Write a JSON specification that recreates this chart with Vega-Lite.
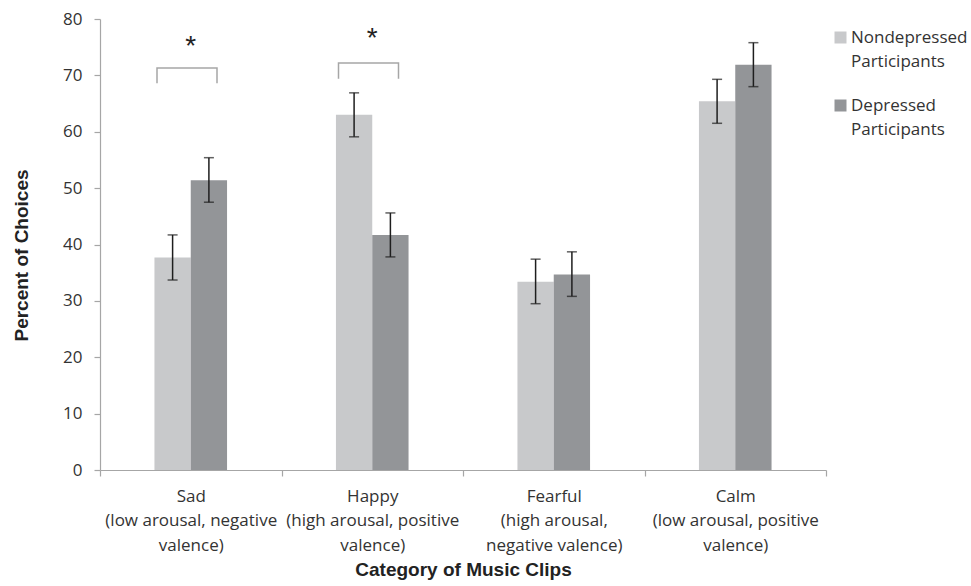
{
  "$schema": "https://vega.github.io/schema/vega-lite/v6.json",
  "width": 726,
  "height": 451,
  "autosize": "none",
  "padding": {"left": 100, "top": 19, "right": 145, "bottom": 116},
  "background": "white",
  "config": {"view": {"stroke": null}, "style": {"guide-label": {"lineHeight": 24}}},
  "datasets": {
    "bars": [
      {"category": "Sad", "group": "Nondepressed Participants", "value": 37.7, "lo": 33.7, "hi": 41.7},
      {"category": "Sad", "group": "Depressed Participants", "value": 51.4, "lo": 47.5, "hi": 55.4},
      {"category": "Happy", "group": "Nondepressed Participants", "value": 63.0, "lo": 59.1, "hi": 66.9},
      {"category": "Happy", "group": "Depressed Participants", "value": 41.7, "lo": 37.8, "hi": 45.6},
      {"category": "Fearful", "group": "Nondepressed Participants", "value": 33.4, "lo": 29.5, "hi": 37.4},
      {"category": "Fearful", "group": "Depressed Participants", "value": 34.7, "lo": 30.8, "hi": 38.7},
      {"category": "Calm", "group": "Nondepressed Participants", "value": 65.4, "lo": 61.5, "hi": 69.3},
      {"category": "Calm", "group": "Depressed Participants", "value": 71.9, "lo": 68.0, "hi": 75.8}
    ],
    "brackets": [
      {"category": "Sad", "side": "L", "y": 68.6, "ord": 1},
      {"category": "Sad", "side": "L", "y": 71.3, "ord": 2},
      {"category": "Sad", "side": "R", "y": 71.3, "ord": 3},
      {"category": "Sad", "side": "R", "y": 68.6, "ord": 4},
      {"category": "Happy", "side": "L", "y": 69.4, "ord": 1},
      {"category": "Happy", "side": "L", "y": 72.2, "ord": 2},
      {"category": "Happy", "side": "R", "y": 72.2, "ord": 3},
      {"category": "Happy", "side": "R", "y": 69.4, "ord": 4}
    ],
    "stars": [
      {"category": "Sad", "y": 76.1, "label": "*"},
      {"category": "Happy", "y": 77.5, "label": "*"}
    ]
  },
  "layer": [
    {
      "data": {"name": "bars"},
      "layer": [
        {
          "mark": {"type": "bar"},
          "encoding": {
            "x": {
              "field": "category", "type": "nominal", "title": "Category of Music Clips",
              "scale": {"domain": ["Sad", "Happy", "Fearful", "Calm"], "paddingInner": 0, "paddingOuter": 0},
              "axis": {
                "labelExpr": "{'Sad': ['Sad', '(low arousal, negative', 'valence)'], 'Happy': ['Happy', '(high arousal, positive', 'valence)'], 'Fearful': ['Fearful', '(high arousal,', 'negative valence)'], 'Calm': ['Calm', '(low arousal, positive', 'valence)']}[datum.label]",
                "labelAngle": 0,
                "labelFont": "Open Sans",
                "labelFontSize": 17,
                "labelColor": "#333333",
                "labelLineHeight": 24.5,
                "labelBaseline": "top",
                "labelPadding": 12,
                "labelOverlap": false,
                "labelBound": false,
                "labelLimit": 400,
                "tickSize": 6,
                "tickBand": "extent",
                "tickColor": "#a6a6a6",
                "tickWidth": 1.2,
                "domainColor": "#a6a6a6",
                "domainWidth": 1.2,
                "titleFont": "Liberation Sans",
                "titleFontWeight": "bold",
                "titleFontSize": 19,
                "titleColor": "#222222",
                "titlePadding": 7
              }
            },
            "xOffset": {
              "field": "group", "type": "nominal",
              "scale": {"domain": ["Nondepressed Participants", "Depressed Participants"], "paddingInner": 0, "paddingOuter": 0, "range": [54.45, 127.05]}
            },
            "y": {
              "field": "value", "type": "quantitative", "title": "Percent of Choices",
              "scale": {"domain": [0, 80], "nice": false},
              "axis": {
                "values": [0, 10, 20, 30, 40, 50, 60, 70, 80],
                "grid": false,
                "labelFont": "Open Sans",
                "labelFontSize": 17,
                "labelColor": "#333333",
                "labelPadding": 12,
                "tickSize": 6,
                "tickColor": "#a6a6a6",
                "tickWidth": 1.2,
                "domainColor": "#a6a6a6",
                "domainWidth": 1.2,
                "titleFont": "Liberation Sans",
                "titleFontWeight": "bold",
                "titleFontSize": 19,
                "titleColor": "#222222",
                "titlePadding": 31,
                "titleY": 236
              }
            },
            "color": {
              "field": "group", "type": "nominal",
              "scale": {"domain": ["Nondepressed Participants", "Depressed Participants"], "range": ["#c8c9cb", "#939598"]},
              "legend": {
                "title": null,
                "orient": "none",
                "legendX": 732,
                "legendY": 10,
                "padding": 0,
                "symbolType": "square",
                "symbolSize": 144,
                "symbolStrokeWidth": 0,
                "labelFont": "Open Sans",
                "labelFontSize": 17,
                "labelColor": "#333333",
                "labelExpr": "split(datum.label, ' ')",
                "labelLimit": 300,
                "labelOffset": 2,
                "rowPadding": 26
              }
            }
          }
        },
        {
          "mark": {"type": "rule", "color": "#1e1e1e", "strokeWidth": 1.5},
          "encoding": {
            "x": {"field": "category", "type": "nominal", "title": "Category of Music Clips"},
            "xOffset": {"field": "group", "type": "nominal"},
            "y": {"field": "lo", "type": "quantitative", "title": "Percent of Choices"},
            "y2": {"field": "hi"}
          }
        },
        {
          "mark": {"type": "tick", "color": "#1e1e1e", "thickness": 1.5, "size": 10},
          "encoding": {
            "x": {"field": "category", "type": "nominal", "title": "Category of Music Clips"},
            "xOffset": {"field": "group", "type": "nominal"},
            "y": {"field": "lo", "type": "quantitative", "title": "Percent of Choices"}
          }
        },
        {
          "mark": {"type": "tick", "color": "#1e1e1e", "thickness": 1.5, "size": 10},
          "encoding": {
            "x": {"field": "category", "type": "nominal", "title": "Category of Music Clips"},
            "xOffset": {"field": "group", "type": "nominal"},
            "y": {"field": "hi", "type": "quantitative", "title": "Percent of Choices"}
          }
        }
      ]
    },
    {
      "data": {"name": "brackets"},
      "mark": {"type": "line", "color": "#a6a6a6", "strokeWidth": 1.5},
      "encoding": {
        "x": {"field": "category", "type": "nominal", "title": "Category of Music Clips"},
        "xOffset": {"field": "side", "type": "nominal", "scale": {"type": "point", "domain": ["L", "R"], "padding": 0, "range": [57, 117]}},
        "y": {"field": "y", "type": "quantitative", "title": "Percent of Choices"},
        "detail": {"field": "category"},
        "order": {"field": "ord", "type": "quantitative"}
      }
    },
    {
      "data": {"name": "stars"},
      "mark": {"type": "text", "font": "Liberation Sans", "fontSize": 28, "color": "#222222", "baseline": "middle", "dy": 6},
      "encoding": {
        "x": {"field": "category", "type": "nominal", "title": "Category of Music Clips"},
        "y": {"field": "y", "type": "quantitative", "title": "Percent of Choices"},
        "text": {"field": "label"}
      }
    }
  ],
  "resolve": {"scale": {"xOffset": "independent"}}
}
